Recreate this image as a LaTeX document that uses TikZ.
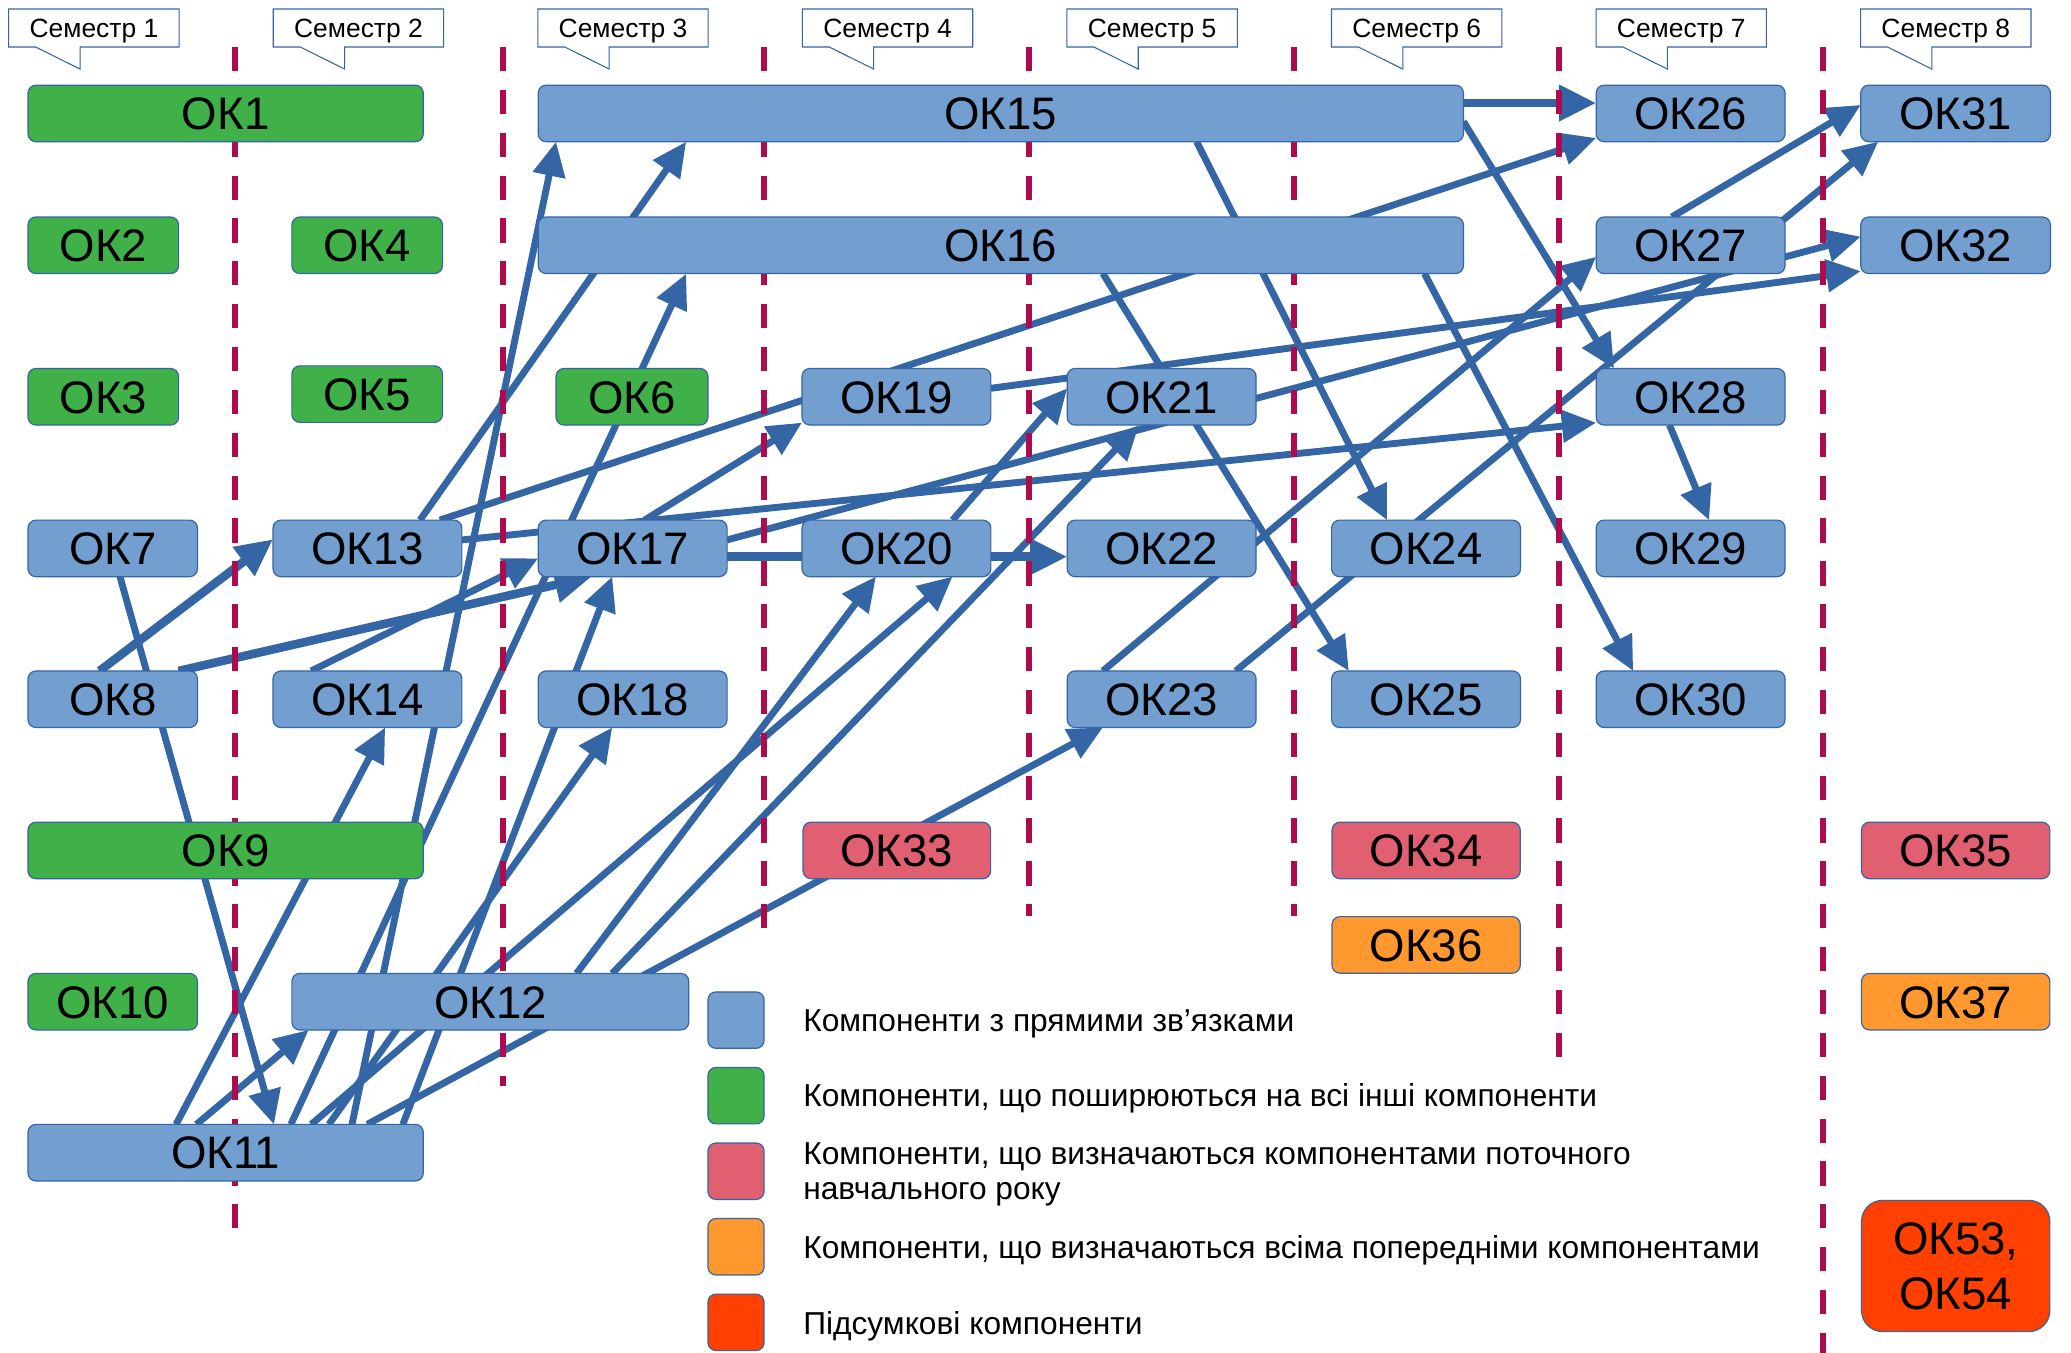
\documentclass[tikz,border=0pt]{standalone}
\usepackage{fontspec}
\setmainfont{Liberation Sans}
\usetikzlibrary{arrows.meta,calc}
\definecolor{boxblue}{HTML}{729FCF}
\definecolor{boxborder}{HTML}{3465A4}
\definecolor{boxgreen}{HTML}{40B048}
\definecolor{boxred}{HTML}{E06072}
\definecolor{boxorange}{HTML}{FF982F}
\definecolor{boxfinal}{HTML}{FF4000}
\definecolor{arrowblue}{HTML}{3465A4}
\definecolor{dashred}{RGB}{172,12,78}
\pgfdeclarelayer{back}
\pgfdeclarelayer{conns}
\pgfdeclarelayer{dashes}
\pgfsetlayers{back,conns,dashes,main}
\begin{document}
\begin{tikzpicture}[x=1pt,y=-1pt,
  okbase/.style={draw=boxborder, line width=0.9pt, rounded corners=6pt, anchor=north west,
    inner sep=0pt, outer sep=0pt},
  ok/.style={okbase, minimum height=42.8pt,
    font=\fontsize{34.5}{41.4}\selectfont, text height=24.7pt, text depth=0pt},
  okb/.style={ok, fill=boxblue},
  okg/.style={ok, fill=boxgreen},
  okr/.style={ok, fill=boxred},
  oko/.style={ok, fill=boxorange},
  okf/.style={ok, fill=boxfinal},
  finalbox/.style={okbase, fill=boxfinal, rounded corners=16pt, align=center,
    font=\fontsize{34.5}{41.4}\selectfont},
  conn/.style={draw=arrowblue, line width=5.2pt, -{Triangle[length=26pt,width=24pt]}},
  thickconn/.style={conn, line width=6.5pt, -{Triangle[length=28pt,width=26pt]}},
  semline/.style={draw=dashred, line width=4.5pt, dash pattern=on 18.3pt off 14.15pt},
  callout/.style={draw=boxborder, line width=0.8pt, fill=white},
  semtext/.style={anchor=base, inner sep=0pt, font=\fontsize{20}{24}\selectfont},
  legtext/.style={anchor=base west, inner sep=0pt, font=\fontsize{24}{27}\selectfont}
]
\begin{pgfonlayer}{back}
\fill[white] (0,0) rectangle (1568,1024);
\end{pgfonlayer}
\useasboundingbox (0,0) rectangle (1568,1024);

% ---------- nodes ----------
\node[okg, minimum width=299.3pt] (OK1) at (21.2,64.5) {ОК1};
\node[okg, minimum width=114pt] (OK2) at (21.2,164.3) {ОК2};
\node[okg, minimum width=114pt] (OK3) at (21.2,279) {ОК3};
\node[okg, minimum width=114pt] (OK4) at (221,164.3) {ОК4};
\node[okg, minimum width=114pt] (OK5) at (221,277) {ОК5};
\node[okg, minimum width=115pt] (OK6) at (421,279) {ОК6};
\node[okb, minimum width=128.3pt] (OK7) at (21.2,393.8) {ОК7};
\node[okb, minimum width=128.3pt] (OK8) at (21.2,508) {ОК8};
\node[okg, minimum width=299.3pt] (OK9) at (21.2,622.5) {ОК9};
\node[okg, minimum width=128.3pt] (OK10) at (21.2,737) {ОК10};
\node[okb, minimum width=299.3pt] (OK11) at (21.2,851.3) {ОК11};
\node[okb, minimum width=300.5pt] (OK12) at (221,737) {ОК12};
\node[okb, minimum width=143pt] (OK13) at (206.7,393.8) {ОК13};
\node[okb, minimum width=143pt] (OK14) at (206.7,508) {ОК14};
\node[okb, minimum width=700.5pt] (OK15) at (407.5,64.5) {ОК15};
\node[okb, minimum width=700.5pt] (OK16) at (407.5,164.3) {ОК16};
\node[okb, minimum width=143pt] (OK17) at (407.5,393.8) {ОК17};
\node[okb, minimum width=143pt] (OK18) at (407.5,508) {ОК18};
\node[okb, minimum width=143pt] (OK19) at (607.2,279) {ОК19};
\node[okb, minimum width=143pt] (OK20) at (607.2,393.8) {ОК20};
\node[okb, minimum width=143pt] (OK21) at (808,279) {ОК21};
\node[okb, minimum width=143pt] (OK22) at (808,393.8) {ОК22};
\node[okb, minimum width=143pt] (OK23) at (808,508) {ОК23};
\node[okb, minimum width=143pt] (OK24) at (1008.2,393.8) {ОК24};
\node[okb, minimum width=143pt] (OK25) at (1008.2,508) {ОК25};
\node[okb, minimum width=143pt] (OK26) at (1208.5,64.5) {ОК26};
\node[okb, minimum width=143pt] (OK27) at (1208.5,164.3) {ОК27};
\node[okb, minimum width=143pt] (OK28) at (1208.5,279) {ОК28};
\node[okb, minimum width=143pt] (OK29) at (1208.5,393.8) {ОК29};
\node[okb, minimum width=143pt] (OK30) at (1208.5,508) {ОК30};
\node[okb, minimum width=143.6pt] (OK31) at (1408.8,64.5) {ОК31};
\node[okb, minimum width=143.6pt] (OK32) at (1408.8,164.3) {ОК32};
\node[okr, minimum width=142pt] (OK33) at (608,622.5) {ОК33};
\node[okr, minimum width=142.5pt] (OK34) at (1008.5,622.5) {ОК34};
\node[okr, minimum width=142.6pt] (OK35) at (1409.4,622.5) {ОК35};
\node[oko, minimum width=142.5pt] (OK36) at (1008.5,694) {ОК36};
\node[oko, minimum width=142.6pt] (OK37) at (1409.4,737) {ОК37};
\node[finalbox, minimum width=142.6pt, minimum height=99.4pt] (OK53) at (1409.4,908.8) {ОК53,\\ОК54};

% ---------- semester callouts ----------
\foreach \i in {1,...,8}{
  \pgfmathsetmacro\xo{6.6+200.3*(\i-1)}
  \draw[callout] (\xo,6.8) -- (\xo+129,6.8) -- (\xo+129,35.6) -- (\xo+54,35.6)
     -- (\xo+54,52.3) -- (\xo+20.4,35.6) -- (\xo,35.6) -- cycle;
  \node[semtext] (S\i) at (\xo+64.5,28.5) {Семестр \i};
}

% ---------- legend ----------
\node[okb, minimum width=42.5pt, minimum height=42.7pt] (L1) at (536,751) {};
\node[okg, minimum width=42.5pt, minimum height=42.7pt] (L2) at (536,808.2) {};
\node[okr, minimum width=42.5pt, minimum height=42.7pt] (L3) at (536,865.4) {};
\node[oko, minimum width=42.5pt, minimum height=42.7pt] (L4) at (536,922.6) {};
\node[okf, minimum width=42.5pt, minimum height=42.7pt] (L5) at (536,979.8) {};
\node[legtext] (T1) at (608,781) {Компоненти з прямими зв’язками};
\node[legtext] (T2) at (608,838) {Компоненти, що поширюються на всі інші компоненти};
\node[legtext] (T3) at (608,882) {Компоненти, що визначаються компонентами поточного};
\node[legtext] (T3b) at (608,908) {навчального року};
\node[legtext] (T4) at (608,953) {Компоненти, що визначаються всіма попередніми компонентами};
\node[legtext] (T5) at (608,1010) {Підсумкові компоненти};

% ---------- dashed semester separators ----------
\begin{pgfonlayer}{dashes}
\foreach \x/\ye in {177.7/930, 380.5/822, 578.7/703, 779/693.5, 979.5/693.5, 1180.2/800.5, 1380.5/1024}
  \draw[semline] (\x,35.6) -- (\x,\ye);
\end{pgfonlayer}

% ---------- connectors ----------
\begin{pgfonlayer}{conns}
\draw[thickconn] ($(OK15.north west)+(700.5,13.5)$) -- ($(OK26.north west)+(0,13.5)$);
\draw[conn] ($(OK15.north west)+(700.5,27.5)$) -- ($(OK28.north west)+(13.5,0)$);
\draw[conn] ($(OK15.north west)+(498.5,42.8)$) -- ($(OK24.north west)+(42,0)$);
\draw[conn] ($(OK16.north west)+(427.5,42.8)$) -- ($(OK25.north west)+(13,0)$);
\draw[conn] ($(OK16.north west)+(671,42.8)$) -- ($(OK30.north west)+(28,0)$);
\draw[conn] ($(OK13.north west)+(126.3,0)$) -- ($(OK26.north west)+(0,40)$);
\draw[conn] ($(OK13.north west)+(111.3,0)$) -- ($(OK15.north west)+(112,42.8)$);
\draw[conn] ($(OK13.north west)+(142.9,15)$) -- ($(OK28.north west)+(0,41)$);
\draw[thickconn] ($(OK8.north west)+(54.1,0)$) -- ($(OK13.north west)+(0,14.5)$);
\draw[thickconn] ($(OK8.north west)+(114,0)$) -- ($(OK17.north west)+(40.5,42.7)$);
\draw[conn] ($(OK14.north west)+(28.9,0)$) -- ($(OK17.north west)+(0,28.9)$);
\draw[conn] ($(OK7.north west)+(69.6,42.7)$) -- ($(OK11.north west)+(186.2,0)$);
\draw[conn] ($(OK11.north west)+(127.5,0)$) -- ($(OK12.north west)+(12.7,42.8)$);
\draw[conn] ($(OK11.north west)+(112.1,0)$) -- ($(OK14.north west)+(84.9,42.8)$);
\draw[conn] ($(OK11.north west)+(245.3,0)$) -- ($(OK15.north west)+(13.5,42.8)$);
\draw[conn] ($(OK11.north west)+(199,0)$) -- ($(OK16.north west)+(112,43)$);
\draw[conn] ($(OK11.north west)+(283.8,0)$) -- ($(OK17.north west)+(56,42.7)$);
\draw[conn] ($(OK11.north west)+(227.8,0)$) -- ($(OK18.north west)+(56,42.8)$);
\draw[conn] ($(OK11.north west)+(214.4,0)$) -- ($(OK20.north west)+(114,42.7)$);
\draw[conn] ($(OK11.north west)+(256.8,0)$) -- ($(OK23.north west)+(27,42.8)$);
\draw[conn] ($(OK12.north west)+(215.5,0)$) -- ($(OK20.north west)+(56,42.7)$);
\draw[conn] ($(OK12.north west)+(242.5,0)$) -- ($(OK21.north west)+(54.2,43)$);
\draw[conn] ($(OK17.north west)+(80.5,0)$) -- ($(OK19.north west)+(0,41)$);
\draw[thickconn] ($(OK17.north west)+(142.9,27.7)$) -- ($(OK22.north west)+(0,27.7)$);
\draw[conn] ($(OK17.north west)+(142.9,15)$) -- ($(OK32.north west)+(0,14.9)$);
\draw[conn] ($(OK19.north west)+(143,15)$) -- ($(OK32.north west)+(0,41)$);
\draw[conn] ($(OK20.north west)+(114,0)$) -- ($(OK21.north west)+(0,15)$);
\draw[conn] ($(OK23.north west)+(27,0)$) -- ($(OK27.north west)+(0,30.2)$);
\draw[conn] ($(OK23.north west)+(127.6,0)$) -- ($(OK31.north west)+(13.2,42.8)$);
\draw[conn] ($(OK27.north west)+(57.2,0)$) -- ($(OK31.north west)+(0,15)$);
\draw[conn] ($(OK28.north west)+(55.5,42.8)$) -- ($(OK29.north west)+(85.5,0)$);
\end{pgfonlayer}
\end{tikzpicture}
\end{document}
